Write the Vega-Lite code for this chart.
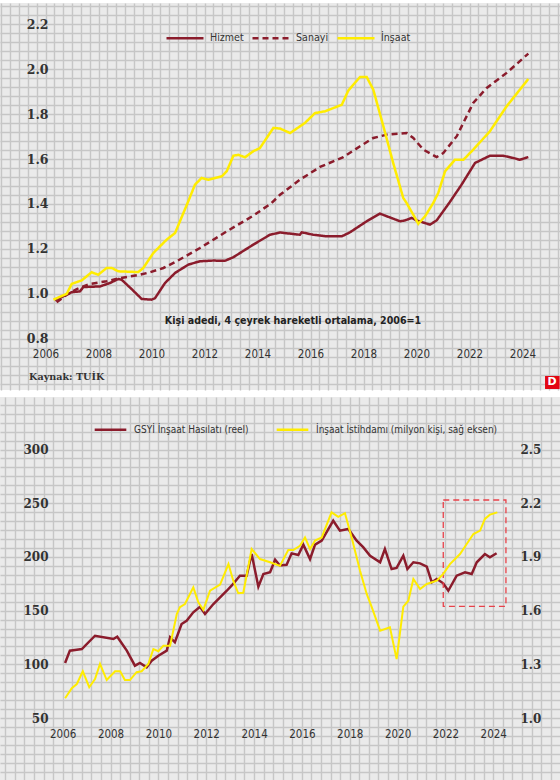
{
  "$schema": "https://vega.github.io/schema/vega-lite/v6.json",
  "padding": 0,
  "background": "white",
  "spacing": 6,
  "config": {
    "view": {"stroke": null, "fill": "#eaeaea"},
    "axis": {
      "title": null, "domain": false, "ticks": false, "tickSize": 0,
      "labelOverlap": false, "labelFlush": false, "labelBound": false,
      "gridColor": "#c6c6c6", "gridWidth": 1.4, "gridOpacity": 1
    },
    "text": {"font": "Liberation Sans Narrow, DejaVu Sans Condensed, Roboto"}
  },
  "resolve": {
    "scale": {"color": "independent", "strokeDash": "independent"},
    "legend": {"color": "independent", "strokeDash": "independent"}
  },
  "vconcat": [
    {
      "width": 560,
      "height": 387,
      "layer": [
        {
          "data": {
            "values": [
              {"t": 2006.36, "v": 0.971, "s": "Hizmet"}, {"t": 2006.99, "v": 1.007, "s": "Hizmet"},
              {"t": 2007.30, "v": 1.011, "s": "Hizmet"}, {"t": 2007.43, "v": 1.030, "s": "Hizmet"},
              {"t": 2008.06, "v": 1.033, "s": "Hizmet"}, {"t": 2008.43, "v": 1.048, "s": "Hizmet"},
              {"t": 2008.75, "v": 1.066, "s": "Hizmet"}, {"t": 2008.87, "v": 1.063, "s": "Hizmet"},
              {"t": 2009.25, "v": 1.021, "s": "Hizmet"}, {"t": 2009.63, "v": 0.977, "s": "Hizmet"},
              {"t": 2010.00, "v": 0.974, "s": "Hizmet"}, {"t": 2010.13, "v": 0.980, "s": "Hizmet"},
              {"t": 2010.51, "v": 1.048, "s": "Hizmet"}, {"t": 2010.89, "v": 1.093, "s": "Hizmet"},
              {"t": 2011.39, "v": 1.130, "s": "Hizmet"}, {"t": 2011.83, "v": 1.145, "s": "Hizmet"},
              {"t": 2012.33, "v": 1.148, "s": "Hizmet"}, {"t": 2012.77, "v": 1.147, "s": "Hizmet"},
              {"t": 2013.09, "v": 1.163, "s": "Hizmet"}, {"t": 2013.84, "v": 1.219, "s": "Hizmet"},
              {"t": 2014.47, "v": 1.263, "s": "Hizmet"}, {"t": 2014.85, "v": 1.273, "s": "Hizmet"},
              {"t": 2015.60, "v": 1.263, "s": "Hizmet"}, {"t": 2015.67, "v": 1.274, "s": "Hizmet"},
              {"t": 2016.10, "v": 1.263, "s": "Hizmet"}, {"t": 2016.61, "v": 1.256, "s": "Hizmet"},
              {"t": 2017.18, "v": 1.256, "s": "Hizmet"}, {"t": 2017.49, "v": 1.274, "s": "Hizmet"},
              {"t": 2018.12, "v": 1.323, "s": "Hizmet"}, {"t": 2018.62, "v": 1.357, "s": "Hizmet"},
              {"t": 2019.38, "v": 1.323, "s": "Hizmet"}, {"t": 2019.57, "v": 1.327, "s": "Hizmet"},
              {"t": 2019.82, "v": 1.338, "s": "Hizmet"}, {"t": 2020.00, "v": 1.327, "s": "Hizmet"},
              {"t": 2020.51, "v": 1.308, "s": "Hizmet"}, {"t": 2020.76, "v": 1.327, "s": "Hizmet"},
              {"t": 2021.23, "v": 1.404, "s": "Hizmet"}, {"t": 2021.70, "v": 1.486, "s": "Hizmet"},
              {"t": 2022.21, "v": 1.583, "s": "Hizmet"}, {"t": 2022.77, "v": 1.615, "s": "Hizmet"},
              {"t": 2023.27, "v": 1.615, "s": "Hizmet"}, {"t": 2023.65, "v": 1.605, "s": "Hizmet"},
              {"t": 2023.90, "v": 1.597, "s": "Hizmet"}, {"t": 2024.22, "v": 1.609, "s": "Hizmet"},

              {"t": 2006.42, "v": 0.962, "s": "Sanayi"}, {"t": 2006.80, "v": 0.996, "s": "Sanayi"},
              {"t": 2007.18, "v": 1.021, "s": "Sanayi"}, {"t": 2007.68, "v": 1.044, "s": "Sanayi"},
              {"t": 2008.31, "v": 1.056, "s": "Sanayi"}, {"t": 2008.81, "v": 1.070, "s": "Sanayi"},
              {"t": 2009.57, "v": 1.085, "s": "Sanayi"}, {"t": 2009.94, "v": 1.096, "s": "Sanayi"},
              {"t": 2010.45, "v": 1.115, "s": "Sanayi"}, {"t": 2010.95, "v": 1.145, "s": "Sanayi"},
              {"t": 2011.83, "v": 1.204, "s": "Sanayi"}, {"t": 2012.84, "v": 1.278, "s": "Sanayi"},
              {"t": 2013.84, "v": 1.348, "s": "Sanayi"}, {"t": 2014.53, "v": 1.404, "s": "Sanayi"},
              {"t": 2014.85, "v": 1.441, "s": "Sanayi"}, {"t": 2015.60, "v": 1.508, "s": "Sanayi"},
              {"t": 2016.36, "v": 1.565, "s": "Sanayi"}, {"t": 2017.24, "v": 1.609, "s": "Sanayi"},
              {"t": 2017.87, "v": 1.657, "s": "Sanayi"}, {"t": 2018.37, "v": 1.694, "s": "Sanayi"},
              {"t": 2018.88, "v": 1.709, "s": "Sanayi"}, {"t": 2019.63, "v": 1.716, "s": "Sanayi"},
              {"t": 2019.88, "v": 1.694, "s": "Sanayi"}, {"t": 2020.26, "v": 1.642, "s": "Sanayi"},
              {"t": 2020.76, "v": 1.609, "s": "Sanayi"}, {"t": 2021.01, "v": 1.627, "s": "Sanayi"},
              {"t": 2021.52, "v": 1.702, "s": "Sanayi"}, {"t": 2022.14, "v": 1.850, "s": "Sanayi"},
              {"t": 2022.65, "v": 1.917, "s": "Sanayi"}, {"t": 2023.40, "v": 1.984, "s": "Sanayi"},
              {"t": 2024.22, "v": 2.070, "s": "Sanayi"},

              {"t": 2006.30, "v": 0.974, "s": "İnşaat"}, {"t": 2006.80, "v": 1.000, "s": "İnşaat"},
              {"t": 2006.99, "v": 1.044, "s": "İnşaat"}, {"t": 2007.37, "v": 1.060, "s": "İnşaat"},
              {"t": 2007.74, "v": 1.096, "s": "İnşaat"}, {"t": 2007.99, "v": 1.085, "s": "İnşaat"},
              {"t": 2008.31, "v": 1.115, "s": "İnşaat"}, {"t": 2008.50, "v": 1.115, "s": "İnşaat"},
              {"t": 2008.75, "v": 1.100, "s": "İnşaat"}, {"t": 2009.50, "v": 1.097, "s": "İnşaat"},
              {"t": 2009.69, "v": 1.115, "s": "İnşaat"}, {"t": 2010.07, "v": 1.182, "s": "İnşaat"},
              {"t": 2010.57, "v": 1.241, "s": "İnşaat"}, {"t": 2010.89, "v": 1.271, "s": "İnşaat"},
              {"t": 2011.36, "v": 1.404, "s": "İnşaat"}, {"t": 2011.64, "v": 1.486, "s": "İnşaat"},
              {"t": 2011.89, "v": 1.516, "s": "İnşaat"}, {"t": 2012.14, "v": 1.508, "s": "İnşaat"},
              {"t": 2012.65, "v": 1.523, "s": "İnşaat"}, {"t": 2012.84, "v": 1.546, "s": "İnşaat"},
              {"t": 2013.09, "v": 1.615, "s": "İnşaat"}, {"t": 2013.28, "v": 1.619, "s": "İnşaat"},
              {"t": 2013.53, "v": 1.608, "s": "İnşaat"}, {"t": 2013.84, "v": 1.635, "s": "İnşaat"},
              {"t": 2014.09, "v": 1.649, "s": "İnşaat"}, {"t": 2014.60, "v": 1.739, "s": "İnşaat"},
              {"t": 2014.85, "v": 1.736, "s": "İnşaat"}, {"t": 2015.23, "v": 1.716, "s": "İnşaat"},
              {"t": 2015.79, "v": 1.761, "s": "İnşaat"}, {"t": 2016.17, "v": 1.805, "s": "İnşaat"},
              {"t": 2016.55, "v": 1.813, "s": "İnşaat"}, {"t": 2017.18, "v": 1.842, "s": "İnşaat"},
              {"t": 2017.43, "v": 1.906, "s": "İnşaat"}, {"t": 2017.87, "v": 1.966, "s": "İnşaat"},
              {"t": 2018.12, "v": 1.966, "s": "İnşaat"}, {"t": 2018.37, "v": 1.909, "s": "İnşaat"},
              {"t": 2018.75, "v": 1.746, "s": "İnşaat"}, {"t": 2019.12, "v": 1.583, "s": "İnşaat"},
              {"t": 2019.50, "v": 1.427, "s": "İnşaat"}, {"t": 2019.63, "v": 1.404, "s": "İnşaat"},
              {"t": 2020.07, "v": 1.312, "s": "İnşaat"}, {"t": 2020.32, "v": 1.345, "s": "İnşaat"},
              {"t": 2020.63, "v": 1.404, "s": "İnşaat"}, {"t": 2020.82, "v": 1.449, "s": "İnşaat"},
              {"t": 2021.08, "v": 1.546, "s": "İnşaat"}, {"t": 2021.45, "v": 1.597, "s": "İnşaat"},
              {"t": 2021.77, "v": 1.597, "s": "İnşaat"}, {"t": 2022.14, "v": 1.642, "s": "İnşaat"},
              {"t": 2022.77, "v": 1.724, "s": "İnşaat"}, {"t": 2023.40, "v": 1.835, "s": "İnşaat"},
              {"t": 2024.22, "v": 1.957, "s": "İnşaat"}
            ]
          },
          "mark": {"type": "line", "strokeWidth": 2.5},
          "encoding": {
            "x": {
              "field": "t", "type": "quantitative",
              "scale": {"domain": [2004.283, 2025.415], "nice": false, "zero": false},
              "axis": {
                "grid": true, "labelOverlap": false, "tickCount": 1000,
                "values": [2004.3333, 2004.6667, 2005, 2005.3333, 2005.6667, 2006, 2006.3333, 2006.6667, 2007, 2007.3333, 2007.6667, 2008, 2008.3333, 2008.6667, 2009, 2009.3333, 2009.6667, 2010, 2010.3333, 2010.6667, 2011, 2011.3333, 2011.6667, 2012, 2012.3333, 2012.6667, 2013, 2013.3333, 2013.6667, 2014, 2014.3333, 2014.6667, 2015, 2015.3333, 2015.6667, 2016, 2016.3333, 2016.6667, 2017, 2017.3333, 2017.6667, 2018, 2018.3333, 2018.6667, 2019, 2019.3333, 2019.6667, 2020, 2020.3333, 2020.6667, 2021, 2021.3333, 2021.6667, 2022, 2022.3333, 2022.6667, 2023, 2023.3333, 2023.6667, 2024, 2024.3333, 2024.6667, 2025, 2025.3333],
                "labelExpr": "datum.value % 2 == 0 && datum.value >= 2006 && datum.value <= 2024 ? datum.value : ''",
                "labelPadding": -36, "labelBaseline": "middle",
                "labelFont": "Liberation Sans Narrow, DejaVu Sans Condensed, Roboto",
                "labelFontSize": 11.5, "labelColor": "#333333"
              }
            },
            "y": {
              "field": "v", "type": "quantitative",
              "scale": {"domain": [0.5715, 2.2953], "nice": false, "zero": false},
              "axis": {
                "grid": true, "labelOverlap": false, "tickCount": 1000,
                "values": [0.6, 0.64, 0.68, 0.72, 0.76, 0.8, 0.84, 0.88, 0.92, 0.96, 1, 1.04, 1.08, 1.12, 1.16, 1.2, 1.24, 1.28, 1.32, 1.36, 1.4, 1.44, 1.48, 1.52, 1.56, 1.6, 1.64, 1.68, 1.72, 1.76, 1.8, 1.84, 1.88, 1.92, 1.96, 2, 2.04, 2.08, 2.12, 2.16, 2.2, 2.24, 2.28],
                "labelExpr": "indexof([0.8, 1, 1.2, 1.4, 1.6, 1.8, 2, 2.2], datum.value) >= 0 ? format(datum.value, '.1f') : ''",
                "labelPadding": -48, "labelAlign": "right", "labelBaseline": "middle",
                "labelFont": "DejaVu Serif", "labelFontWeight": "bold",
                "labelFontSize": 12.5, "labelColor": "#333333"
              }
            },
            "color": {
              "field": "s", "type": "nominal",
              "scale": {"domain": ["Hizmet", "Sanayi", "İnşaat"], "range": ["#8b1c2c", "#8b1c2c", "#ffec00"]},
              "legend": {
                "title": null, "orient": "none", "legendX": 165, "legendY": 15,
                "direction": "horizontal", "symbolType": "stroke", "symbolSize": 1369,
                "symbolStrokeWidth": 2.5, "labelOffset": 5, "columnPadding": 3, "padding": 0,
                "labelFont": "Liberation Sans Narrow, DejaVu Sans Condensed, Roboto",
                "labelFontSize": 10.6, "labelColor": "#333333"
              }
            },
            "strokeDash": {
              "field": "s", "type": "nominal",
              "scale": {"domain": ["Hizmet", "Sanayi", "İnşaat"], "range": [[1, 0], [6, 4], [1, 0]]},
              "legend": {
                "title": null, "orient": "none", "legendX": 165, "legendY": 15,
                "direction": "horizontal", "symbolType": "stroke", "symbolSize": 1369,
                "symbolStrokeWidth": 2.5, "labelOffset": 5, "columnPadding": 3, "padding": 0,
                "labelFont": "Liberation Sans Narrow, DejaVu Sans Condensed, Roboto",
                "labelFontSize": 10.6, "labelColor": "#333333"
              }
            }
          }
        },
        {
          "data": {"values": [{"label": "Kişi adedi, 4 çeyrek hareketli ortalama, 2006=1"}]},
          "mark": {"type": "text", "fontSize": 10.6, "fontWeight": "bold", "color": "#222222", "align": "center", "baseline": "middle"},
          "encoding": {
            "x": {"datum": 2015.34, "type": "quantitative", "scale": {"domain": [2004.283, 2025.415], "nice": false, "zero": false}},
            "y": {"datum": 0.88, "type": "quantitative", "scale": {"domain": [0.5715, 2.2953], "nice": false, "zero": false}},
            "text": {"field": "label"}
          }
        },
        {
          "data": {"values": [{"label": "Kaynak: TUİK"}]},
          "mark": {"type": "text", "font": "DejaVu Serif", "fontSize": 9.6, "fontWeight": "bold", "color": "#333333", "align": "left", "baseline": "middle"},
          "encoding": {
            "x": {"datum": 2005.38, "type": "quantitative", "scale": {"domain": [2004.283, 2025.415], "nice": false, "zero": false}},
            "y": {"datum": 0.629, "type": "quantitative", "scale": {"domain": [0.5715, 2.2953], "nice": false, "zero": false}},
            "text": {"field": "label"}
          }
        },
        {
          "data": {"values": [{"label": "D"}]},
          "mark": {"type": "rect", "color": "#e30613"},
          "encoding": {
            "x": {"datum": 2024.85, "type": "quantitative", "scale": {"domain": [2004.283, 2025.415], "nice": false, "zero": false}},
            "x2": {"datum": 2025.40},
            "y": {"datum": 0.576, "type": "quantitative", "scale": {"domain": [0.5715, 2.2953], "nice": false, "zero": false}},
            "y2": {"datum": 0.634}
          }
        },
        {
          "data": {"values": [{"label": "D"}]},
          "mark": {"type": "text", "font": "DejaVu Sans", "fontSize": 11, "fontWeight": "bold", "color": "white", "align": "center", "baseline": "middle"},
          "encoding": {
            "x": {"datum": 2025.12, "type": "quantitative", "scale": {"domain": [2004.283, 2025.415], "nice": false, "zero": false}},
            "y": {"datum": 0.605, "type": "quantitative", "scale": {"domain": [0.5715, 2.2953], "nice": false, "zero": false}},
            "text": {"field": "label"}
          }
        }
      ]
    },
    {
      "width": 560,
      "height": 387,
      "data": {
        "values": [
          {"t": 2006.10, "v": 101.2, "s": "GSYİ İnşaat Hasılatı (reel)"}, {"t": 2006.30, "v": 112.7, "s": "GSYİ İnşaat Hasılatı (reel)"},
          {"t": 2006.59, "v": 113.6, "s": "GSYİ İnşaat Hasılatı (reel)"}, {"t": 2006.80, "v": 114.2, "s": "GSYİ İnşaat Hasılatı (reel)"},
          {"t": 2007.35, "v": 126.6, "s": "GSYİ İnşaat Hasılatı (reel)"}, {"t": 2008.12, "v": 123.6, "s": "GSYİ İnşaat Hasılatı (reel)"},
          {"t": 2008.28, "v": 125.7, "s": "GSYİ İnşaat Hasılatı (reel)"}, {"t": 2008.68, "v": 112.7, "s": "GSYİ İnşaat Hasılatı (reel)"},
          {"t": 2009.02, "v": 98.7, "s": "GSYİ İnşaat Hasılatı (reel)"}, {"t": 2009.23, "v": 101.2, "s": "GSYİ İnşaat Hasılatı (reel)"},
          {"t": 2009.51, "v": 97.2, "s": "GSYİ İnşaat Hasılatı (reel)"}, {"t": 2009.72, "v": 103.4, "s": "GSYİ İnşaat Hasılatı (reel)"},
          {"t": 2010.00, "v": 108.0, "s": "GSYİ İnşaat Hasılatı (reel)"}, {"t": 2010.35, "v": 112.7, "s": "GSYİ İnşaat Hasılatı (reel)"},
          {"t": 2010.49, "v": 125.1, "s": "GSYİ İnşaat Hasılatı (reel)"}, {"t": 2010.69, "v": 120.5, "s": "GSYİ İnşaat Hasılatı (reel)"},
          {"t": 2010.97, "v": 137.5, "s": "GSYİ İnşaat Hasılatı (reel)"}, {"t": 2011.18, "v": 140.6, "s": "GSYİ İnşaat Hasılatı (reel)"},
          {"t": 2011.46, "v": 148.4, "s": "GSYİ İnşaat Hasılatı (reel)"}, {"t": 2011.74, "v": 153.6, "s": "GSYİ İnşaat Hasılatı (reel)"},
          {"t": 2011.95, "v": 146.8, "s": "GSYİ İnşaat Hasılatı (reel)"}, {"t": 2012.30, "v": 156.1, "s": "GSYİ İnşaat Hasılatı (reel)"},
          {"t": 2012.58, "v": 162.4, "s": "GSYİ İnşaat Hasılatı (reel)"}, {"t": 2012.86, "v": 168.5, "s": "GSYİ İnşaat Hasılatı (reel)"},
          {"t": 2013.06, "v": 173.2, "s": "GSYİ İnşaat Hasılatı (reel)"}, {"t": 2013.41, "v": 182.5, "s": "GSYİ İnşaat Hasılatı (reel)"},
          {"t": 2013.69, "v": 182.5, "s": "GSYİ İnşaat Hasılatı (reel)"}, {"t": 2013.90, "v": 202.7, "s": "GSYİ İnşaat Hasılatı (reel)"},
          {"t": 2014.18, "v": 172.3, "s": "GSYİ İnşaat Hasılatı (reel)"}, {"t": 2014.39, "v": 184.1, "s": "GSYİ İnşaat Hasılatı (reel)"},
          {"t": 2014.67, "v": 185.7, "s": "GSYİ İnşaat Hasılatı (reel)"}, {"t": 2014.88, "v": 197.4, "s": "GSYİ İnşaat Hasılatı (reel)"},
          {"t": 2015.08, "v": 192.0, "s": "GSYİ İnşaat Hasılatı (reel)"}, {"t": 2015.36, "v": 192.7, "s": "GSYİ İnşaat Hasılatı (reel)"},
          {"t": 2015.57, "v": 203.3, "s": "GSYİ İnşaat Hasılatı (reel)"}, {"t": 2015.85, "v": 201.8, "s": "GSYİ İnşaat Hasılatı (reel)"},
          {"t": 2016.06, "v": 211.4, "s": "GSYİ İnşaat Hasılatı (reel)"}, {"t": 2016.34, "v": 198.0, "s": "GSYİ İnşaat Hasılatı (reel)"},
          {"t": 2016.55, "v": 211.4, "s": "GSYİ İnşaat Hasılatı (reel)"}, {"t": 2016.83, "v": 215.1, "s": "GSYİ İnşaat Hasılatı (reel)"},
          {"t": 2017.31, "v": 233.7, "s": "GSYİ İnşaat Hasılatı (reel)"}, {"t": 2017.59, "v": 224.4, "s": "GSYİ İnşaat Hasılatı (reel)"},
          {"t": 2017.94, "v": 226.0, "s": "GSYİ İnşaat Hasılatı (reel)"}, {"t": 2018.29, "v": 215.1, "s": "GSYİ İnşaat Hasılatı (reel)"},
          {"t": 2018.57, "v": 208.9, "s": "GSYİ İnşaat Hasılatı (reel)"}, {"t": 2018.85, "v": 201.1, "s": "GSYİ İnşaat Hasılatı (reel)"},
          {"t": 2019.27, "v": 195.0, "s": "GSYİ İnşaat Hasılatı (reel)"}, {"t": 2019.47, "v": 207.4, "s": "GSYİ İnşaat Hasılatı (reel)"},
          {"t": 2019.75, "v": 188.7, "s": "GSYİ İnşaat Hasılatı (reel)"}, {"t": 2019.96, "v": 189.7, "s": "GSYİ İnşaat Hasılatı (reel)"},
          {"t": 2020.24, "v": 201.1, "s": "GSYİ İnşaat Hasılatı (reel)"}, {"t": 2020.41, "v": 188.7, "s": "GSYİ İnşaat Hasılatı (reel)"},
          {"t": 2020.66, "v": 195.0, "s": "GSYİ İnşaat Hasılatı (reel)"}, {"t": 2020.94, "v": 194.0, "s": "GSYİ İnşaat Hasılatı (reel)"},
          {"t": 2021.22, "v": 190.9, "s": "GSYİ İnşaat Hasılatı (reel)"}, {"t": 2021.43, "v": 176.3, "s": "GSYİ İnşaat Hasılatı (reel)"},
          {"t": 2021.64, "v": 179.4, "s": "GSYİ İnşaat Hasılatı (reel)"}, {"t": 2021.91, "v": 175.4, "s": "GSYİ İnşaat Hasılatı (reel)"},
          {"t": 2022.12, "v": 168.5, "s": "GSYİ İnşaat Hasılatı (reel)"}, {"t": 2022.47, "v": 182.5, "s": "GSYİ İnşaat Hasılatı (reel)"},
          {"t": 2022.82, "v": 185.7, "s": "GSYİ İnşaat Hasılatı (reel)"}, {"t": 2023.10, "v": 184.1, "s": "GSYİ İnşaat Hasılatı (reel)"},
          {"t": 2023.31, "v": 195.0, "s": "GSYİ İnşaat Hasılatı (reel)"}, {"t": 2023.65, "v": 202.7, "s": "GSYİ İnşaat Hasılatı (reel)"},
          {"t": 2023.86, "v": 199.6, "s": "GSYİ İnşaat Hasılatı (reel)"}, {"t": 2024.14, "v": 203.4, "s": "GSYİ İnşaat Hasılatı (reel)"},

          {"t": 2006.10, "v": 1.110, "s": "İnşaat İstihdamı (milyon kişi, sağ eksen)"}, {"t": 2006.38, "v": 1.167, "s": "İnşaat İstihdamı (milyon kişi, sağ eksen)"},
          {"t": 2006.59, "v": 1.190, "s": "İnşaat İstihdamı (milyon kişi, sağ eksen)"}, {"t": 2006.84, "v": 1.261, "s": "İnşaat İstihdamı (milyon kişi, sağ eksen)"},
          {"t": 2007.11, "v": 1.172, "s": "İnşaat İstihdamı (milyon kişi, sağ eksen)"}, {"t": 2007.35, "v": 1.218, "s": "İnşaat İstihdamı (milyon kişi, sağ eksen)"},
          {"t": 2007.56, "v": 1.302, "s": "İnşaat İstihdamı (milyon kişi, sağ eksen)"}, {"t": 2007.84, "v": 1.212, "s": "İnşaat İstihdamı (milyon kişi, sağ eksen)"},
          {"t": 2008.19, "v": 1.261, "s": "İnşaat İstihdamı (milyon kişi, sağ eksen)"}, {"t": 2008.40, "v": 1.261, "s": "İnşaat İstihdamı (milyon kişi, sağ eksen)"},
          {"t": 2008.60, "v": 1.212, "s": "İnşaat İstihdamı (milyon kişi, sağ eksen)"}, {"t": 2008.81, "v": 1.212, "s": "İnşaat İstihdamı (milyon kişi, sağ eksen)"},
          {"t": 2009.09, "v": 1.256, "s": "İnşaat İstihdamı (milyon kişi, sağ eksen)"}, {"t": 2009.30, "v": 1.261, "s": "İnşaat İstihdamı (milyon kişi, sağ eksen)"},
          {"t": 2009.58, "v": 1.302, "s": "İnşaat İstihdamı (milyon kişi, sağ eksen)"}, {"t": 2009.79, "v": 1.385, "s": "İnşaat İstihdamı (milyon kişi, sağ eksen)"},
          {"t": 2010.00, "v": 1.373, "s": "İnşaat İstihdamı (milyon kişi, sağ eksen)"}, {"t": 2010.21, "v": 1.404, "s": "İnşaat İstihdamı (milyon kişi, sağ eksen)"},
          {"t": 2010.49, "v": 1.404, "s": "İnşaat İstihdamı (milyon kişi, sağ eksen)"}, {"t": 2010.77, "v": 1.581, "s": "İnşaat İstihdamı (milyon kişi, sağ eksen)"},
          {"t": 2010.90, "v": 1.619, "s": "İnşaat İstihdamı (milyon kişi, sağ eksen)"}, {"t": 2011.11, "v": 1.637, "s": "İnşaat İstihdamı (milyon kişi, sağ eksen)"},
          {"t": 2011.46, "v": 1.730, "s": "İnşaat İstihdamı (milyon kişi, sağ eksen)"}, {"t": 2011.67, "v": 1.646, "s": "İnşaat İstihdamı (milyon kişi, sağ eksen)"},
          {"t": 2011.88, "v": 1.604, "s": "İnşaat İstihdamı (milyon kişi, sağ eksen)"}, {"t": 2012.16, "v": 1.711, "s": "İnşaat İstihdamı (milyon kişi, sağ eksen)"},
          {"t": 2012.58, "v": 1.745, "s": "İnşaat İstihdamı (milyon kişi, sağ eksen)"}, {"t": 2012.93, "v": 1.860, "s": "İnşaat İstihdamı (milyon kişi, sağ eksen)"},
          {"t": 2013.13, "v": 1.767, "s": "İnşaat İstihdamı (milyon kişi, sağ eksen)"}, {"t": 2013.34, "v": 1.697, "s": "İnşaat İstihdamı (milyon kişi, sağ eksen)"},
          {"t": 2013.55, "v": 1.700, "s": "İnşaat İstihdamı (milyon kişi, sağ eksen)"}, {"t": 2013.90, "v": 1.944, "s": "İnşaat İstihdamı (milyon kişi, sağ eksen)"},
          {"t": 2014.25, "v": 1.888, "s": "İnşaat İstihdamı (milyon kişi, sağ eksen)"}, {"t": 2014.67, "v": 1.870, "s": "İnşaat İstihdamı (milyon kişi, sağ eksen)"},
          {"t": 2015.08, "v": 1.850, "s": "İnşaat İstihdamı (milyon kişi, sağ eksen)"}, {"t": 2015.43, "v": 1.938, "s": "İnşaat İstihdamı (milyon kişi, sağ eksen)"},
          {"t": 2015.64, "v": 1.938, "s": "İnşaat İstihdamı (milyon kişi, sağ eksen)"}, {"t": 2015.92, "v": 1.962, "s": "İnşaat İstihdamı (milyon kişi, sağ eksen)"},
          {"t": 2016.13, "v": 2.009, "s": "İnşaat İstihdamı (milyon kişi, sağ eksen)"}, {"t": 2016.34, "v": 1.944, "s": "İnşaat İstihdamı (milyon kişi, sağ eksen)"},
          {"t": 2016.55, "v": 1.991, "s": "İnşaat İstihdamı (milyon kişi, sağ eksen)"}, {"t": 2016.83, "v": 2.009, "s": "İnşaat İstihdamı (milyon kişi, sağ eksen)"},
          {"t": 2017.24, "v": 2.149, "s": "İnşaat İstihdamı (milyon kişi, sağ eksen)"}, {"t": 2017.52, "v": 2.124, "s": "İnşaat İstihdamı (milyon kişi, sağ eksen)"},
          {"t": 2017.80, "v": 2.144, "s": "İnşaat İstihdamı (milyon kişi, sağ eksen)"}, {"t": 2018.08, "v": 2.009, "s": "İnşaat İstihdamı (milyon kişi, sağ eksen)"},
          {"t": 2018.43, "v": 1.823, "s": "İnşaat İstihdamı (milyon kişi, sağ eksen)"}, {"t": 2018.71, "v": 1.693, "s": "İnşaat İstihdamı (milyon kişi, sağ eksen)"},
          {"t": 2018.92, "v": 1.619, "s": "İnşaat İstihdamı (milyon kişi, sağ eksen)"}, {"t": 2019.27, "v": 1.488, "s": "İnşaat İstihdamı (milyon kişi, sağ eksen)"},
          {"t": 2019.68, "v": 1.507, "s": "İnşaat İstihdamı (milyon kişi, sağ eksen)"}, {"t": 2019.96, "v": 1.329, "s": "İnşaat İstihdamı (milyon kişi, sağ eksen)"},
          {"t": 2020.24, "v": 1.622, "s": "İnşaat İstihdamı (milyon kişi, sağ eksen)"}, {"t": 2020.45, "v": 1.655, "s": "İnşaat İstihdamı (milyon kişi, sağ eksen)"},
          {"t": 2020.66, "v": 1.777, "s": "İnşaat İstihdamı (milyon kişi, sağ eksen)"}, {"t": 2020.94, "v": 1.721, "s": "İnşaat İstihdamı (milyon kişi, sağ eksen)"},
          {"t": 2021.22, "v": 1.749, "s": "İnşaat İstihdamı (milyon kişi, sağ eksen)"}, {"t": 2021.64, "v": 1.767, "s": "İnşaat İstihdamı (milyon kişi, sağ eksen)"},
          {"t": 2021.91, "v": 1.805, "s": "İnşaat İstihdamı (milyon kişi, sağ eksen)"}, {"t": 2022.19, "v": 1.860, "s": "İnşaat İstihdamı (milyon kişi, sağ eksen)"},
          {"t": 2022.61, "v": 1.916, "s": "İnşaat İstihdamı (milyon kişi, sağ eksen)"}, {"t": 2022.89, "v": 1.972, "s": "İnşaat İstihdamı (milyon kişi, sağ eksen)"},
          {"t": 2023.17, "v": 2.028, "s": "İnşaat İstihdamı (milyon kişi, sağ eksen)"}, {"t": 2023.45, "v": 2.047, "s": "İnşaat İstihdamı (milyon kişi, sağ eksen)"},
          {"t": 2023.65, "v": 2.112, "s": "İnşaat İstihdamı (milyon kişi, sağ eksen)"}, {"t": 2023.86, "v": 2.136, "s": "İnşaat İstihdamı (milyon kişi, sağ eksen)"},
          {"t": 2024.17, "v": 2.149, "s": "İnşaat İstihdamı (milyon kişi, sağ eksen)"}
        ]
      },
      "layer": [
        {
          "layer": [
            {
              "transform": [{"filter": "datum.s == 'GSYİ İnşaat Hasılatı (reel)'"}],
              "mark": {"type": "line", "strokeWidth": 2.5},
              "encoding": {
                "x": {
                  "field": "t", "type": "quantitative",
                  "scale": {"domain": [2003.379, 2026.79], "nice": false, "zero": false},
                  "axis": {
                    "grid": true, "labelOverlap": false, "tickCount": 1000,
                    "values": [2003.6, 2004, 2004.4, 2004.8, 2005.2, 2005.6, 2006, 2006.4, 2006.8, 2007.2, 2007.6, 2008, 2008.4, 2008.8, 2009.2, 2009.6, 2010, 2010.4, 2010.8, 2011.2, 2011.6, 2012, 2012.4, 2012.8, 2013.2, 2013.6, 2014, 2014.4, 2014.8, 2015.2, 2015.6, 2016, 2016.4, 2016.8, 2017.2, 2017.6, 2018, 2018.4, 2018.8, 2019.2, 2019.6, 2020, 2020.4, 2020.8, 2021.2, 2021.6, 2022, 2022.4, 2022.8, 2023.2, 2023.6, 2024, 2024.4, 2024.8, 2025.2, 2025.6, 2026, 2026.4],
                    "labelExpr": "datum.value % 2 == 0 && datum.value >= 2006 && datum.value <= 2024 ? datum.value : ''",
                    "labelPadding": -50, "labelBaseline": "middle",
                    "labelFont": "Liberation Sans Narrow, DejaVu Sans Condensed, Roboto",
                    "labelFontSize": 11.5, "labelColor": "#333333"
                  }
                },
                "y": {
                  "field": "v", "type": "quantitative",
                  "scale": {"domain": [-11.45, 348.9], "nice": false, "zero": false},
                  "axis": {
                    "orient": "left", "grid": true, "labelOverlap": false, "tickCount": 1000,
                    "values": [-8.3333, 0, 8.3333, 16.6667, 25, 33.3333, 41.6667, 50, 58.3333, 66.6667, 75, 83.3333, 91.6667, 100, 108.3333, 116.6667, 125, 133.3333, 141.6667, 150, 158.3333, 166.6667, 175, 183.3333, 191.6667, 200, 208.3333, 216.6667, 225, 233.3333, 241.6667, 250, 258.3333, 266.6667, 275, 283.3333, 291.6667, 300, 308.3333, 316.6667, 325, 333.3333, 341.6667],
                    "labelExpr": "datum.value % 50 == 0 && datum.value >= 50 && datum.value <= 300 ? datum.value : ''",
                    "labelPadding": -48, "labelAlign": "right", "labelBaseline": "middle",
                    "labelFont": "DejaVu Serif", "labelFontWeight": "bold",
                    "labelFontSize": 12, "labelColor": "#333333"
                  }
                },
                "color": {
                  "field": "s", "type": "nominal",
                  "scale": {"domain": ["GSYİ İnşaat Hasılatı (reel)", "İnşaat İstihdamı (milyon kişi, sağ eksen)"], "range": ["#8b1c2c", "#ffec00"]},
                  "legend": {
                    "title": null, "orient": "none", "legendX": 93, "legendY": 15,
                    "direction": "horizontal", "symbolType": "stroke", "symbolSize": 1000,
                    "symbolStrokeWidth": 2.5, "labelOffset": 6, "columnPadding": 22, "padding": 0,
                    "labelFont": "Liberation Sans Narrow, DejaVu Sans Condensed, Roboto",
                    "labelFontSize": 10, "labelColor": "#333333", "labelLimit": 300
                  }
                }
              }
            },
            {
              "data": {"values": [{"note": "2022-2024"}]},
              "mark": {"type": "rect", "fill": null, "fillOpacity": 0, "stroke": "#e8424a", "strokeWidth": 1.3, "strokeDash": [6, 4]},
              "encoding": {
                "x": {"datum": 2021.91, "type": "quantitative", "scale": {"domain": [2003.379, 2026.79], "nice": false, "zero": false}},
                "x2": {"datum": 2024.53},
                "y": {"datum": 154, "type": "quantitative", "scale": {"domain": [-11.45, 348.9], "nice": false, "zero": false}},
                "y2": {"datum": 253}
              }
            }
          ]
        },
        {
          "transform": [{"filter": "datum.s == 'İnşaat İstihdamı (milyon kişi, sağ eksen)'"}],
          "mark": {"type": "line", "strokeWidth": 2},
          "encoding": {
            "x": {
              "field": "t", "type": "quantitative",
              "scale": {"domain": [2003.379, 2026.79], "nice": false, "zero": false}
            },
            "y": {
              "field": "v", "type": "quantitative",
              "scale": {"domain": [0.6313, 2.7934], "nice": false, "zero": false},
              "axis": {
                "orient": "right", "grid": false, "labelOverlap": false, "tickCount": 1000,
                "values": [1, 1.3, 1.6, 1.9, 2.2, 2.5],
                "labelExpr": "format(datum.value, '.1f')",
                "labelPadding": -40, "labelAlign": "left", "labelBaseline": "middle",
                "labelFont": "DejaVu Serif", "labelFontWeight": "bold",
                "labelFontSize": 12, "labelColor": "#333333"
              }
            },
            "color": {
              "field": "s", "type": "nominal",
              "scale": {"domain": ["GSYİ İnşaat Hasılatı (reel)", "İnşaat İstihdamı (milyon kişi, sağ eksen)"], "range": ["#8b1c2c", "#ffec00"]},
              "legend": {
                "title": null, "orient": "none", "legendX": 93, "legendY": 15,
                "direction": "horizontal", "symbolType": "stroke", "symbolSize": 1000,
                "symbolStrokeWidth": 2.5, "labelOffset": 6, "columnPadding": 22, "padding": 0,
                "labelFont": "Liberation Sans Narrow, DejaVu Sans Condensed, Roboto",
                "labelFontSize": 10, "labelColor": "#333333", "labelLimit": 300
              }
            }
          }
        }
      ],
      "resolve": {"scale": {"y": "independent"}}
    }
  ]
}
